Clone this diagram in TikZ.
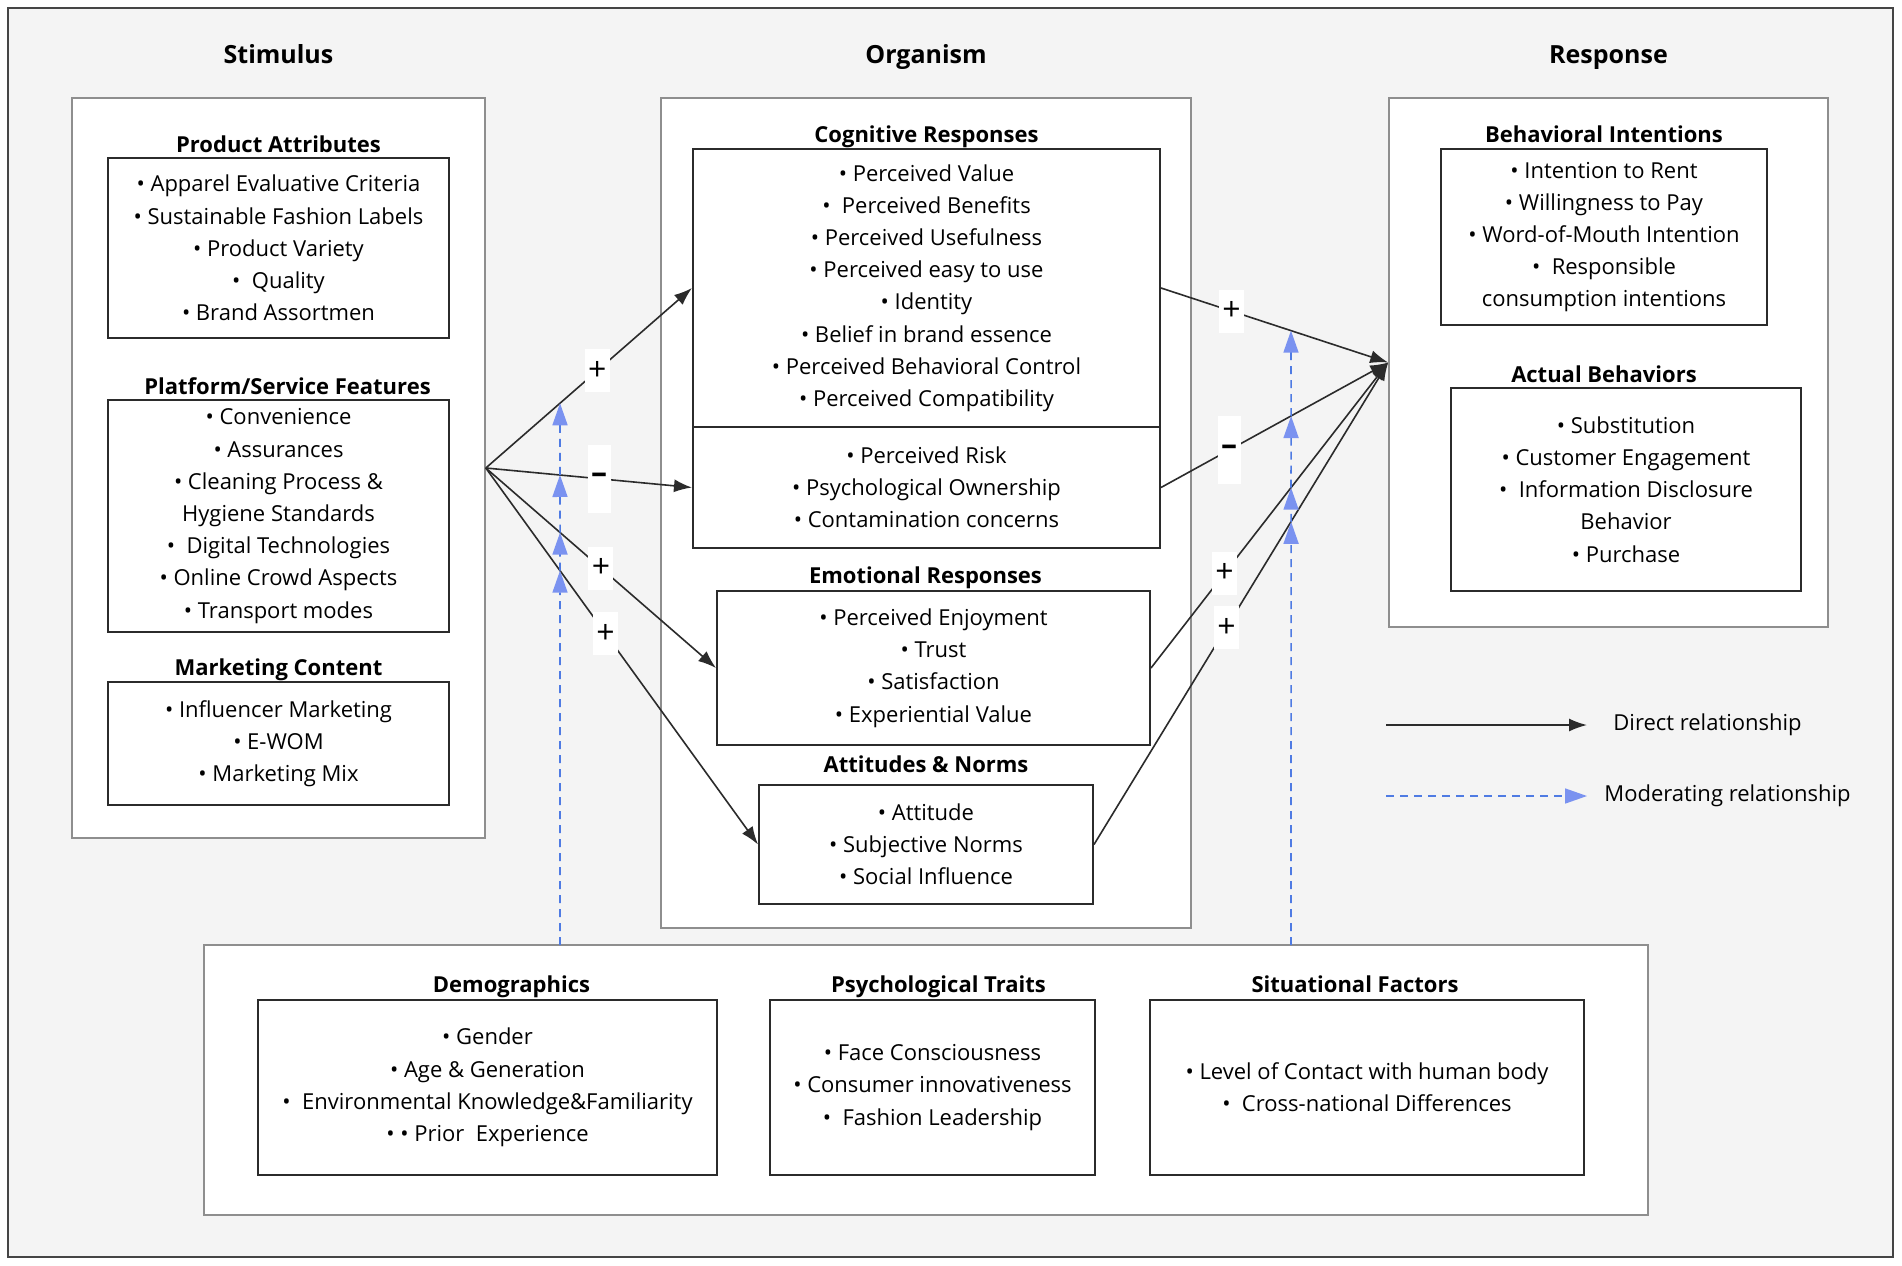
\documentclass[tikz,border=0pt]{standalone}
\usepackage{fontspec}
\setmainfont{Open Sans}
\usepackage{tikz}
\usetikzlibrary{arrows.meta,positioning,calc}

\definecolor{framegray}{HTML}{454545}
\definecolor{contgray}{HTML}{8E8E8E}
\definecolor{boxline}{HTML}{2B2B2B}
\definecolor{modblue}{HTML}{4F7BE3}
\definecolor{modhead}{HTML}{7A92F0}
\definecolor{bggray}{HTML}{F4F4F4}

\begin{document}
\begin{tikzpicture}[
    x=0.5pt, y=-0.5pt,
    font=\fontsize{11}{16.1}\selectfont,
    container/.style={draw=contgray, line width=0.8pt, fill=white},
    listbox/.style={draw=boxline, line width=1pt, fill=white,
        align=center, inner sep=0pt,
        execute at begin node={\rule{0pt}{11.4pt}}},
    grouptitle/.style={font=\fontsize{12.5}{14}\selectfont\bfseries,
        inner sep=0pt, text depth=0pt},
    boxtitle/.style={font=\fontsize{11}{13}\selectfont\bfseries,
        inner sep=0pt, text depth=0pt},
    sign/.style={fill=white, inner sep=0pt, minimum width=12.5pt,
        minimum height=21.5pt, font=\fontsize{16}{16}\selectfont},
    minus/.style={sign, minimum width=11.5pt, minimum height=34pt},
    diredge/.style={-{Latex[length=9pt,width=6.5pt]}, draw=boxline, line width=0.8pt},
    modedge/.style={-{Triangle[length=11pt,width=7.5pt,color=modhead]},
        draw=modblue, dash pattern=on 4pt off 3pt, line width=0.8pt}
]
\useasboundingbox (0,0) rectangle (1902,1265);
\fill[white] (0,0) rectangle (1902,1265);
\draw[framegray, line width=1.2pt, fill=bggray] (8,8) rectangle (1893,1257);

% outer groups
\node[container, minimum width=206.5pt, minimum height=370pt] (stim) at (278.5,468) {};
\node[container, minimum width=265pt, minimum height=415pt] (org) at (926,513) {};
\node[container, minimum width=219.5pt, minimum height=264.5pt] (resp) at (1608.5,362.5) {};
\node[container, minimum width=722pt, minimum height=135pt] (mod) at (926,1080) {};

\node[grouptitle, above=16.5pt of stim] {Stimulus};
\node[grouptitle, above=16.5pt of org] {Organism};
\node[grouptitle, above=16.5pt of resp] {Response};

% stimulus
\node[listbox, minimum width=170.5pt, minimum height=90pt] (prod) at (278.5,248)
    {• Apparel Evaluative Criteria\\ • Sustainable Fashion Labels\\ • Product Variety\\
     •\ \ Quality\\ • Brand Assortmen};
\node[boxtitle, above=2pt of prod] {Product Attributes};
\node[listbox, minimum width=170.5pt, minimum height=116pt] (platf) at (278.5,516)
    {• Convenience\\ • Assurances\\ • Cleaning Process \&\\ Hygiene Standards\\
     •\ \ Digital Technologies\\ • Online Crowd Aspects\\ • Transport modes};
\node[boxtitle, above=2pt of platf, xshift=4.5pt] {Platform/Service Features};
\node[listbox, minimum width=170.5pt, minimum height=61.5pt] (mkt) at (278.5,743.5)
    {• Influencer Marketing\\ • E-WOM\\ • Marketing Mix};
\node[boxtitle, above=2.5pt of mkt] {Marketing Content};

% organism
\node[listbox, minimum width=233.5pt, minimum height=139pt] (cogT) at (926.5,288)
    {• Perceived Value\\ •\ \ Perceived Benefits\\ • Perceived Usefulness\\
     • Perceived easy to use\\ • Identity\\ • Belief in brand essence\\
     • Perceived Behavioral Control\\ • Perceived Compatibility};
\node[listbox, minimum width=233.5pt, minimum height=60.5pt] (cogB) at (926.5,487.5)
    {• Perceived Risk\\ • Psychological Ownership\\ • Contamination concerns};
\node[boxtitle, above=2.5pt of cogT] {Cognitive Responses};
\node[listbox, minimum width=216.5pt, minimum height=77pt] (emo) at (933.5,668)
    {• Perceived Enjoyment\\ • Trust\\ • Satisfaction\\ • Experiential Value};
\node[boxtitle, above=3pt of emo, xshift=-4pt] {Emotional Responses};
\node[listbox, minimum width=167pt, minimum height=59.5pt] (att) at (926,844.5)
    {• Attitude\\ • Subjective Norms\\ • Social Influence};
\node[boxtitle, above=5.5pt of att] {Attitudes \& Norms};

% response
\node[listbox, minimum width=163pt, minimum height=88pt] (intent) at (1604,237)
    {• Intention to Rent\\ • Willingness to Pay\\ • Word-of-Mouth Intention\\
     •\ \ Responsible\\ consumption intentions};
\node[boxtitle, above=2.5pt of intent] {Behavioral Intentions};
\node[listbox, minimum width=175pt, minimum height=101.5pt] (actual) at (1626,489.5)
    {• Substitution\\ • Customer Engagement\\ •\ \ Information Disclosure\\
     Behavior\\ • Purchase};
\node[boxtitle, above=2pt of actual, xshift=-11pt] {Actual Behaviors};

% moderators
\node[listbox, minimum width=229.5pt, minimum height=87.5pt] (demo) at (487.5,1087.5)
    {• Gender\\ • Age \& Generation\\ •\ \ Environmental Knowledge\&Familiarity\\
     • • Prior\ \ Experience};
\node[boxtitle, above=3pt of demo, xshift=12pt] {Demographics};
\node[listbox, minimum width=162.5pt, minimum height=87.5pt] (psy) at (932.5,1087.5)
    {• Face Consciousness\\ • Consumer innovativeness\\ •\ \ Fashion Leadership};
\node[boxtitle, above=3pt of psy, xshift=3pt] {Psychological Traits};
\node[listbox, minimum width=217pt, minimum height=87.5pt] (situ) at (1367,1087.5)
    {• Level of Contact with human body\\ •\ \ Cross-national Differences};
\node[boxtitle, above=3pt of situ, xshift=-6pt] {Situational Factors};

% direct paths
\draw[diredge] (stim.east) -- node[sign, pos=0.54] {+} (cogT.west);
\draw[diredge] (stim.east) -- node[minus, pos=0.55] {\textbf{--}} (cogB.west);
\draw[diredge] (stim.east) -- node[sign, pos=0.5] {+} (emo.west);
\draw[diredge] (stim.east) -- node[sign, pos=0.44] {+} (att.west);
\draw[diredge] (cogT.east) -- node[sign, pos=0.31] {+} (resp.west);
\draw[diredge] (cogB.east) -- node[minus, pos=0.3] {\textbf{--}} (resp.west);
\draw[diredge] (emo.east) -- node[sign, pos=0.31] {+} (resp.west);
\draw[diredge] (att.east) -- node[sign, pos=0.45] {+} (resp.west);

% moderating paths
\coordinate (modL) at (560,945);
\coordinate (modLtop) at (560,100);
\coordinate (modR) at (1291,945);
\coordinate (modRtop) at (1291,100);
\coordinate (xL1) at (intersection of stim.east--cogT.west and modL--modLtop);
\coordinate (xL2) at (intersection of stim.east--cogB.west and modL--modLtop);
\coordinate (xL3) at (intersection of stim.east--emo.west and modL--modLtop);
\coordinate (xL4) at (intersection of stim.east--att.west and modL--modLtop);
\coordinate (xR1) at (intersection of cogT.east--resp.west and modR--modRtop);
\coordinate (xR2) at (intersection of cogB.east--resp.west and modR--modRtop);
\coordinate (xR3) at (intersection of emo.east--resp.west and modR--modRtop);
\coordinate (xR4) at (intersection of att.east--resp.west and modR--modRtop);
\foreach \a/\b in {modL/xL4, xL4/xL3, xL3/xL2, xL2/xL1,
                   modR/xR4, xR4/xR3, xR3/xR2, xR2/xR1}
    \draw[modedge] (\a) -- (\b);

% legend
\coordinate (dirA) at (1386,725);
\coordinate (dirB) at (1587,725);
\coordinate (modA) at (1386,796);
\coordinate (modB) at (1587,796);
\draw[diredge] (dirA) -- (dirB);
\draw[modedge] (modA) -- (modB);
\node[anchor=west, inner sep=0pt] (dirlbl) at (1613,725) {Direct relationship};
\node[anchor=west, inner sep=0pt] (modlbl) at (1604,796) {Moderating relationship};
\end{tikzpicture}
\end{document}
